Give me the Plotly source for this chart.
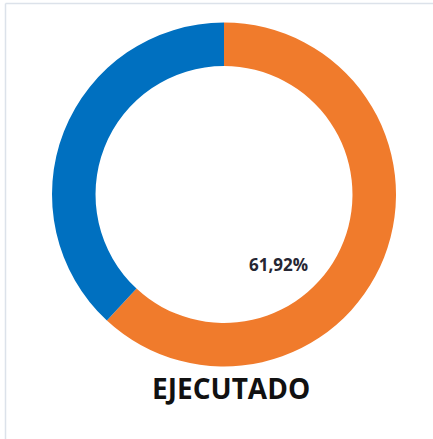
import plotly.graph_objects as go

labels = ["Ejecutado", "Por ejecutar"]
values = [61.92, 38.08]
colors = ["#F07B2C", "#0070C0"]
title_text = "EJECUTADO"

W, H = 433, 439
cx, cy, r = 224, 194.5, 172

fig = go.Figure(go.Pie(
    labels=labels, values=values, hole=0.747, sort=False,
    direction="clockwise", rotation=0,
    marker=dict(colors=colors, line=dict(width=0)),
    textinfo="none", hoverinfo="label+percent",
    domain=dict(x=[(cx - r) / W, (cx + r) / W], y=[1 - (cy + r) / H, 1 - (cy - r) / H]),
    showlegend=False,
))

pct = f"{values[0]:.2f}%".replace(".", ",")
fig.add_annotation(x=278.5 / W, y=1 - 264 / H, xref="paper", yref="paper",
                   xanchor="center", yanchor="middle",
                   text=f"<b>{pct}</b>", showarrow=False,
                   font=dict(family="Open Sans", size=17, color="#262633"))
fig.add_annotation(x=231 / W, y=1 - 388 / H, xref="paper", yref="paper",
                   xanchor="center", yanchor="middle",
                   text=f"<b>{title_text}</b>", showarrow=False,
                   font=dict(family="Open Sans", size=28, color="#111111"))

# light frame lines (top and left)
fig.add_shape(type="line", xref="paper", yref="paper", x0=5.5 / W, x1=1, y0=1 - 3.5 / H, y1=1 - 3.5 / H,
              line=dict(color="#DCE2EA", width=1.5))
fig.add_shape(type="line", xref="paper", yref="paper", x0=5.5 / W, x1=5.5 / W, y0=0, y1=1 - 3.5 / H,
              line=dict(color="#DCE2EA", width=1.5))

fig.update_layout(width=W, height=H, margin=dict(l=0, r=0, t=0, b=0),
                  paper_bgcolor="white", plot_bgcolor="white")
fig.write_html("out.html", config={"displayModeBar": False},
               post_script="document.body.style.margin='0';document.body.style.overflow='hidden';")
